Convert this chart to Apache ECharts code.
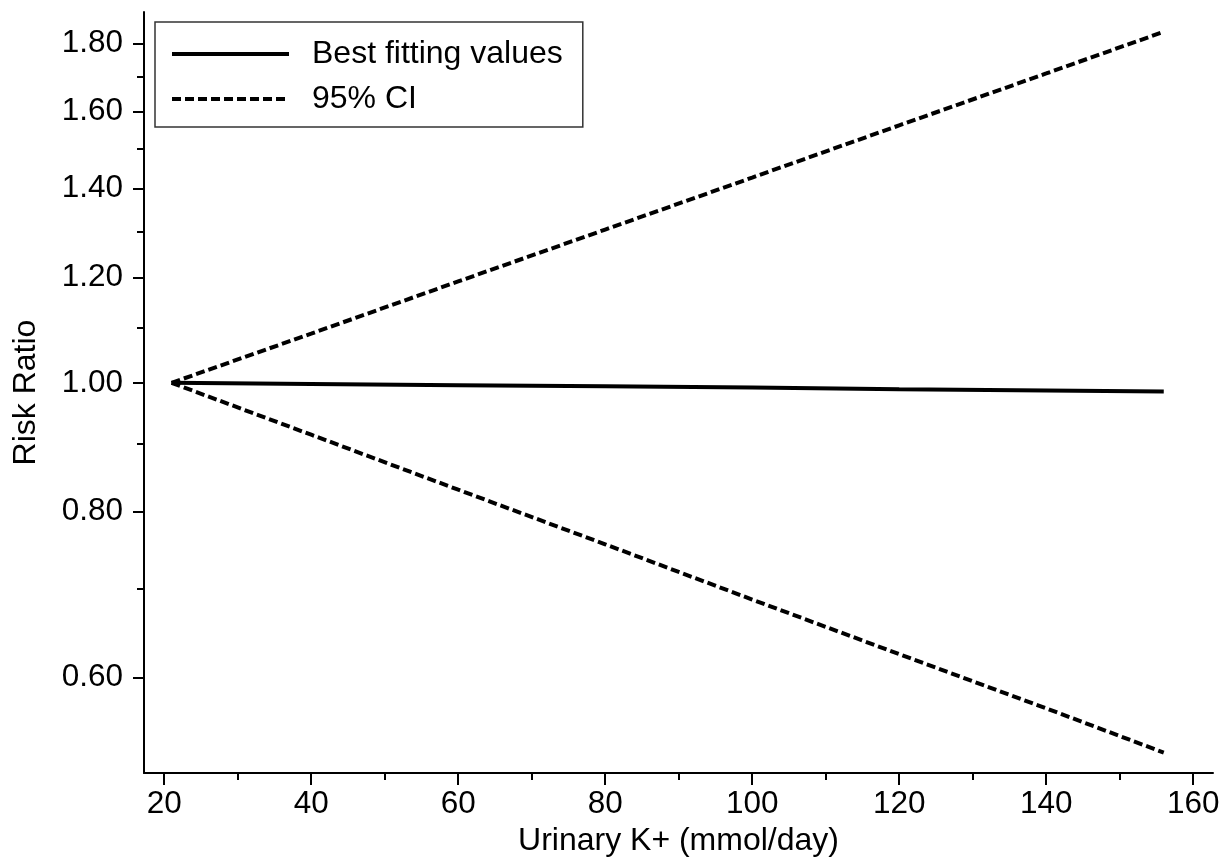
<!DOCTYPE html>
<html>
<head>
<meta charset="utf-8">
<script src="https://cdn.jsdelivr.net/npm/echarts@6/dist/echarts.min.js"></script>
<style>html,body{margin:0;padding:0;background:#fff;}#c{width:1231px;height:859px;}</style>
</head>
<body>
<div id="c"></div>
<script>
// Data
var kValues = [21, 40, 60, 80, 100, 120, 140, 156];
var bestFit = [1.000, 0.998, 0.996, 0.994, 0.992, 0.989, 0.987, 0.985];
var ciUpper = [1.000, 1.089, 1.192, 1.304, 1.427, 1.562, 1.709, 1.837];
var ciLower = [1.000, 0.914, 0.831, 0.756, 0.687, 0.625, 0.569, 0.527];
var xMajorTicks = [20, 40, 60, 80, 100, 120, 140, 160];
var xMinorTicks = [30, 50, 70, 90, 110, 130, 150];
var yMajorTicks = [0.6, 0.8, 1.0, 1.2, 1.4, 1.6, 1.8];
var yMinorTicks = [0.7, 0.9, 1.1, 1.3, 1.5, 1.7];

function pairs(xs, ys) { return xs.map(function (x, i) { return [x, ys[i]]; }); }

var FONT = '"Liberation Sans", Arial, Helvetica, sans-serif';
var DASH = [9, 4];
var chart = echarts.init(document.getElementById('c'), null, {renderer: 'canvas'});
var xMin = 17.25, xMax = 162.7, yMin = 0.5087, yMax = 1.901;
chart.setOption({
  backgroundColor: '#fff',
  animation: false,
  grid: {left: 144, right: 18, top: 12, bottom: 86, outerBoundsMode: 'none'},
  legend: {
    left: 155, top: 22, orient: 'vertical',
    data: [
      {name: 'Best fitting values', lineStyle: {width: 4, type: 'solid', color: '#000'}},
      {name: '95% CI', lineStyle: {width: 4, type: DASH, color: '#000'}}
    ],
    itemWidth: 117, itemHeight: 30, itemGap: 13,
    itemStyle: {opacity: 0},
    padding: [16, 20, 12, 15],
    borderColor: '#333', borderWidth: 1.5,
    textStyle: {fontFamily: FONT, fontSize: 32, color: '#000', padding: [0, 0, 0, 18], lineHeight: 30},
    selectedMode: false
  },
  xAxis: [{
    type: 'value', min: xMin, max: xMax,
    name: 'Urinary K+ (mmol/day)', nameLocation: 'middle', nameGap: 49,
    nameTextStyle: {fontFamily: FONT, fontSize: 32, color: '#000'},
    axisLine: {onZero: false, lineStyle: {color: '#000', width: 2}},
    axisTick: {show: true, length: 12, lineStyle: {color: '#000', width: 2}, customValues: xMajorTicks},
    axisLabel: {fontFamily: FONT, fontSize: 31.5, color: '#000', margin: 15, customValues: xMajorTicks},
    splitLine: {show: false}
  }, {
    type: 'value', min: xMin, max: xMax, position: 'bottom',
    axisLine: {show: false},
    axisTick: {show: true, length: 7, lineStyle: {color: '#000', width: 2}, customValues: xMinorTicks},
    axisLabel: {show: false},
    splitLine: {show: false}
  }],
  yAxis: [{
    type: 'log', min: yMin, max: yMax,
    name: 'Risk Ratio', nameLocation: 'middle', nameGap: 102, nameRotate: 90,
    nameTextStyle: {fontFamily: FONT, fontSize: 32, color: '#000'},
    axisLine: {show: true, onZero: false, lineStyle: {color: '#000', width: 2}},
    axisTick: {show: true, length: 11, lineStyle: {color: '#000', width: 2}, customValues: yMajorTicks},
    axisLabel: {fontFamily: FONT, fontSize: 31.5, color: '#000', margin: 21, customValues: yMajorTicks,
      formatter: function (v) { return Number(v).toFixed(2); }},
    splitLine: {show: false}
  }, {
    type: 'log', min: yMin, max: yMax, position: 'left',
    axisLine: {show: false},
    axisTick: {show: true, length: 7, lineStyle: {color: '#000', width: 2}, customValues: yMinorTicks},
    axisLabel: {show: false},
    splitLine: {show: false}
  }],
  series: [{
    name: 'Best fitting values', type: 'line', symbol: 'none',
    data: pairs(kValues, bestFit),
    lineStyle: {color: '#000', width: 4, type: 'solid'},
    itemStyle: {color: '#000'}
  }, {
    name: '95% CI', type: 'line', symbol: 'none',
    data: pairs(kValues, ciUpper),
    lineStyle: {color: '#000', width: 4, type: DASH},
    itemStyle: {color: '#000'}
  }, {
    name: '95% CI', type: 'line', symbol: 'none',
    data: pairs(kValues, ciLower),
    lineStyle: {color: '#000', width: 4, type: DASH},
    itemStyle: {color: '#000'}
  }]
});
</script>
</body>
</html>
